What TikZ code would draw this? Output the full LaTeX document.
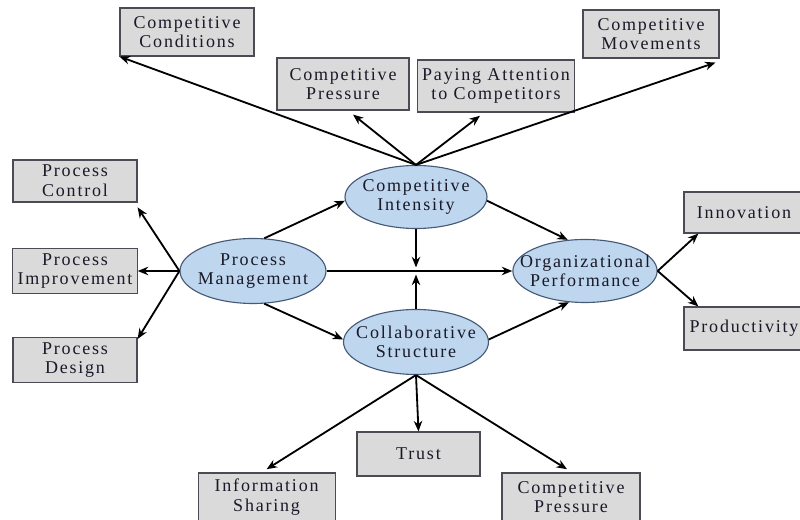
\documentclass[tikz,border=0pt]{standalone}
\usepackage{fontspec}
\setmainfont[LetterSpace=10]{Liberation Serif}
\usepackage{tikz}
\usetikzlibrary{shapes,arrows,arrows.meta,positioning,calc}
\definecolor{boxgray}{RGB}{218,218,218}
\definecolor{boxedge}{RGB}{75,75,85}
\definecolor{ellblue}{RGB}{190,214,238}
\definecolor{elledge}{RGB}{70,90,120}
\definecolor{txt}{RGB}{25,25,40}
\tikzstyle{factor} = [rectangle, draw=boxedge, fill=boxgray, line width=0.8pt, align=center, text=txt, font=\fontsize{12.8}{14}\selectfont]
\tikzstyle{construct} = [ellipse, draw=elledge, fill=ellblue, line width=0.8pt, align=center, text=txt, inner xsep=-0.35cm, inner ysep=-0.2cm, font=\fontsize{12.8}{14}\selectfont]
\tikzstyle{link} = [->, line width=1.3pt]
\tikzstyle{hublink} = [->, line width=2pt]

\begin{document}
\begin{tikzpicture}[>={Stealth[length=7.5pt,width=6pt]}]
    \useasboundingbox (0,0) rectangle (20,13);
    % constructs
    \node[construct, minimum width=3.55cm, minimum height=1.575cm] (ci) at (10.4,8.075) {Competitive\\Intensity};
    \node[construct, minimum width=3.65cm, minimum height=1.625cm] (pm) at (6.325,6.225) {Process\\Management};
    \node[construct, minimum width=3.625cm, minimum height=1.625cm] (cs) at (10.4,4.45) {Collaborative\\Structure};
    \node[construct, minimum width=3.6cm, minimum height=1.575cm] (op) at (14.625,6.225) {Organizational\\Performance};

    % indicators of competitive intensity
    \node[factor, minimum width=3.35cm, minimum height=1.2cm] (cond) at (4.675,12.2) {Competitive\\Conditions};
    \node[factor, minimum width=3.3cm, minimum height=1.3cm] (press1) at (8.575,10.9) {Competitive\\Pressure};
    \node[factor, minimum width=3.7cm, minimum height=1.3cm] (attn) at (12.4,10.85) {Paying Attention\\to Competitors};
    \node[factor, minimum width=3.4cm, minimum height=1.2cm] (moves) at (16.275,12.15) {Competitive\\Movements};

    % indicators of process management
    \node[factor, minimum width=3.1cm, minimum height=1.05cm] (pctrl) at (1.875,8.475) {Process\\Control};
    \node[factor, minimum width=3.1cm, minimum height=1.1cm] (pimp) at (1.875,6.225) {Process\\Improvement};
    \node[factor, minimum width=3.1cm, minimum height=1.1cm] (pdes) at (1.875,4.0) {Process\\Design};

    % indicators of performance
    \node[factor, minimum width=3.0cm, minimum height=1.025cm] (innov) at (18.6,7.6875) {Innovation};
    \node[factor, minimum width=3.0cm, minimum height=1.075cm] (prod) at (18.6,4.7875) {Productivity};

    % indicators of collaborative structure
    \node[factor, minimum width=3.075cm, minimum height=1.1cm] (trust) at (10.4625,1.65) {Trust};
    \node[factor, minimum width=3.425cm, minimum height=1.2cm] (info) at (6.665,0.575) {Information\\Sharing};
    \node[factor, minimum width=3.45cm, minimum height=1.2cm] (press2) at (14.275,0.575) {Competitive\\Pressure};

    \coordinate (hub) at (ci.south |- pm.east);

    \draw[link] (ci.north) -- (cond.south west);
    \draw[link] (ci.north) -- ([shift={(0.25,-0.1)}]press1.south);
    \draw[link] (ci.north) -- ([shift={(-0.4,-0.08)}]attn.south);
    \draw[link] (ci.north) -- ([shift={(-0.1,-0.1)}]moves.south east);

    \draw[link] (pm.west) -- ([yshift=-0.12cm]pctrl.south east);
    \draw[link] (pm.west) -- (pimp.east);
    \draw[link] (pm.west) -- ([yshift=-0.05cm]pdes.north east);

    \draw[link] (pm.71) -- (ci.183);
    \draw[link] (pm.-71) -- (cs.178);
    \draw[link] (pm.east) -- (op.west);
    \draw[link] (ci.-3) -- (op.119);
    \draw[link] (cs.2) -- (op.-117);
    \draw[hublink] (ci.south) -- ([yshift=0.09cm]hub);
    \draw[hublink] (cs.north) -- ([yshift=-0.09cm]hub);

    \draw[link] (op.east) -- ([xshift=0.375cm]innov.south west);
    \draw[link] (op.east) -- ([xshift=0.375cm]prod.north west);

    \draw[link] (cs.south) -- (trust.north);
    \draw[link] (cs.south) -- ([yshift=0.08cm]info.north);
    \draw[link] (cs.south) -- ([shift={(-0.1,0.08)}]press2.north);
\end{tikzpicture}
\end{document}
